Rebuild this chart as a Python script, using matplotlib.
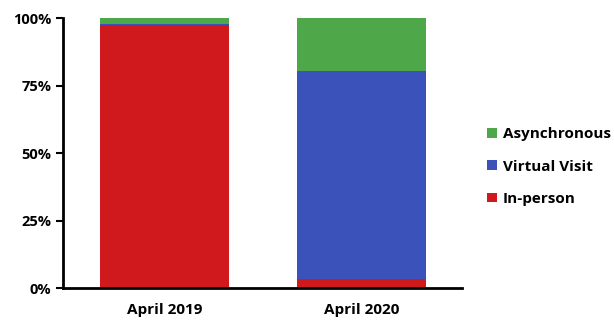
import matplotlib
matplotlib.use("Agg")
import matplotlib.pyplot as plt
from matplotlib.ticker import FuncFormatter

categories = ["April 2019", "April 2020"]
in_person = [97.5, 3.3]
virtual_visit = [0.5, 77.2]
asynchronous = [2.0, 19.5]

plt.rcParams["font.family"] = ["Open Sans", "DejaVu Sans"]
plt.rcParams["font.weight"] = "bold"

fig = plt.figure(figsize=(6.14, 3.24), dpi=100)
ax = fig.add_axes([0.1026, 0.111, 0.6494, 0.833])

x = range(len(categories))
w = 0.653
ax.bar(x, in_person, width=w, color="#d0191c", label="In-person")
bottom2 = [a + b for a, b in zip(in_person, virtual_visit)]
ax.bar(x, virtual_visit, width=w, bottom=in_person, color="#3a52b9", label="Virtual Visit")
ax.bar(x, asynchronous, width=w, bottom=bottom2, color="#4ea84a", label="Asynchronous")

ax.set_xlim(-0.514, 1.506)
ax.set_ylim(0, 100)
ax.set_yticks([0, 25, 50, 75, 100])
ax.yaxis.set_major_formatter(FuncFormatter(lambda v, p: f"{v:.0f}%"))
ax.set_xticks(list(x))
ax.set_xticklabels(categories, fontsize=11, fontweight="bold")
ax.tick_params(axis="y", labelsize=10.5, length=5, width=1.5, direction="out")
ax.tick_params(axis="x", length=0, pad=11)
for s in ["top", "right"]:
    ax.spines[s].set_visible(False)
ax.spines["left"].set_linewidth(2)
ax.spines["bottom"].set_linewidth(2)

handles, labels = ax.get_legend_handles_labels()
ax.legend(handles[::-1], labels[::-1], loc="center left", bbox_to_anchor=(1.03, 0.45),
          frameon=False, handlelength=0.6, handleheight=0.6,
          handletextpad=0.4, labelspacing=1.2, prop={"weight": "bold", "size": 11})

fig.savefig("out.png", dpi=100)
